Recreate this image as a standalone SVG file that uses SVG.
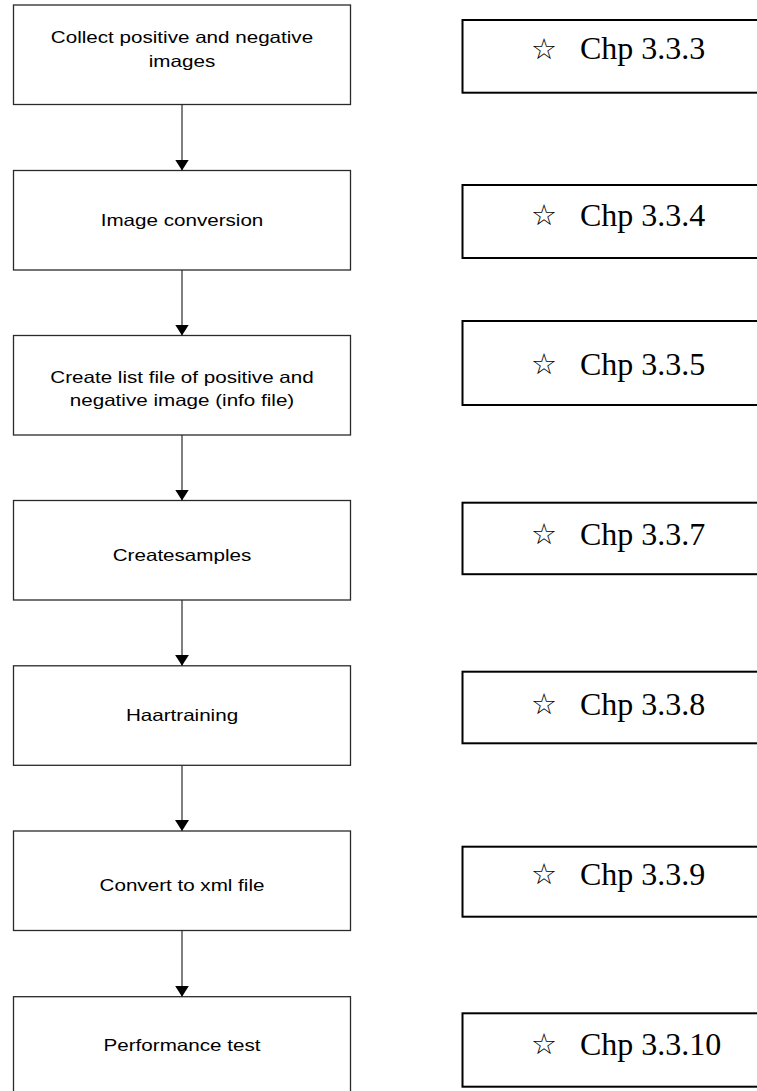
<svg xmlns="http://www.w3.org/2000/svg" width="757" height="1091" viewBox="0 0 757 1091">
  <defs>
    <style>
      .step rect { fill: #ffffff; stroke: #2a2a2a; stroke-width: 1.3; }
      .step text { font-family: "Liberation Sans", Arial, sans-serif; font-size: 16.5px; fill: #000; text-anchor: middle; }
      .ref rect { fill: #ffffff; stroke: #000; stroke-width: 2; }
      .ref .lbl { font-family: "Liberation Serif", "Times New Roman", serif; font-size: 32px; fill: #000; }
      .ref .star { font-family: "DejaVu Sans", sans-serif; font-size: 29px; fill: #000; }
      .conn line { stroke: #2a2a2a; stroke-width: 1.2; }
    </style>
    <marker id="arrow" viewBox="0 0 11 14" refX="11" refY="7" markerWidth="11" markerHeight="14" markerUnits="userSpaceOnUse" orient="auto">
      <path d="M0,0 L11,7 L0,14 Z" fill="#000"/>
    </marker>
  </defs>

  <!-- process steps (left column) -->
  <g id="step1" class="step">
    <rect x="13.5" y="5" width="337" height="99.5"/>
    <g transform="translate(182 0) scale(1.25 1)">
      <text x="0" y="43.3">Collect positive and negative</text>
      <text x="0" y="66.7">images</text>
    </g>
  </g>
  <g id="step2" class="step">
    <rect x="13.5" y="170.5" width="337" height="99.5"/>
    <g transform="translate(182 0) scale(1.25 1)">
      <text x="0" y="226">Image conversion</text>
    </g>
  </g>
  <g id="step3" class="step">
    <rect x="13.5" y="335.5" width="337" height="99.5"/>
    <g transform="translate(182 0) scale(1.25 1)">
      <text x="0" y="383">Create list file of positive and</text>
      <text x="0" y="406">negative image (info file)</text>
    </g>
  </g>
  <g id="step4" class="step">
    <rect x="13.5" y="500.5" width="337" height="99.5"/>
    <g transform="translate(182 0) scale(1.25 1)">
      <text x="0" y="561">Createsamples</text>
    </g>
  </g>
  <g id="step5" class="step">
    <rect x="13.5" y="665.8" width="337" height="99.5"/>
    <g transform="translate(182 0) scale(1.25 1)">
      <text x="0" y="720.7">Haartraining</text>
    </g>
  </g>
  <g id="step6" class="step">
    <rect x="13.5" y="831" width="337" height="99.5"/>
    <g transform="translate(182 0) scale(1.25 1)">
      <text x="0" y="891">Convert to xml file</text>
    </g>
  </g>
  <g id="step7" class="step">
    <rect x="13.5" y="996.7" width="337" height="99.5"/>
    <g transform="translate(182 0) scale(1.25 1)">
      <text x="0" y="1050.7">Performance test</text>
    </g>
  </g>

  <!-- chapter references (right column) -->
  <g id="ref1" class="ref">
    <rect x="462.5" y="20" width="310" height="72.7"/>
    <text class="star" x="531" y="59">☆</text>
    <text class="lbl" x="580" y="59.3">Chp 3.3.3</text>
  </g>
  <g id="ref2" class="ref">
    <rect x="462.5" y="185" width="310" height="73"/>
    <text class="star" x="531" y="225">☆</text>
    <text class="lbl" x="580" y="226">Chp 3.3.4</text>
  </g>
  <g id="ref3" class="ref">
    <rect x="462.5" y="321" width="310" height="84"/>
    <text class="star" x="531" y="374">☆</text>
    <text class="lbl" x="580" y="375">Chp 3.3.5</text>
  </g>
  <g id="ref4" class="ref">
    <rect x="462.5" y="502.7" width="310" height="71.5"/>
    <text class="star" x="531" y="544">☆</text>
    <text class="lbl" x="580" y="545">Chp 3.3.7</text>
  </g>
  <g id="ref5" class="ref">
    <rect x="462.5" y="671.7" width="310" height="71.6"/>
    <text class="star" x="531" y="714">☆</text>
    <text class="lbl" x="580" y="715">Chp 3.3.8</text>
  </g>
  <g id="ref6" class="ref">
    <rect x="462.5" y="846.7" width="310" height="70"/>
    <text class="star" x="531" y="884">☆</text>
    <text class="lbl" x="580" y="885">Chp 3.3.9</text>
  </g>
  <g id="ref7" class="ref">
    <rect x="462.5" y="1013.3" width="310" height="73.4"/>
    <text class="star" x="531" y="1054">☆</text>
    <text class="lbl" x="580" y="1055">Chp 3.3.10</text>
  </g>

  <!-- flow connectors -->
  <g id="connectors" class="conn">
    <line x1="182" y1="104.5" x2="182" y2="170.5" marker-end="url(#arrow)"/>
    <line x1="182" y1="270" x2="182" y2="335.5" marker-end="url(#arrow)"/>
    <line x1="182" y1="435" x2="182" y2="500.5" marker-end="url(#arrow)"/>
    <line x1="182" y1="600" x2="182" y2="665.8" marker-end="url(#arrow)"/>
    <line x1="182" y1="765.3" x2="182" y2="831" marker-end="url(#arrow)"/>
    <line x1="182" y1="930.5" x2="182" y2="996.7" marker-end="url(#arrow)"/>
  </g>
</svg>
